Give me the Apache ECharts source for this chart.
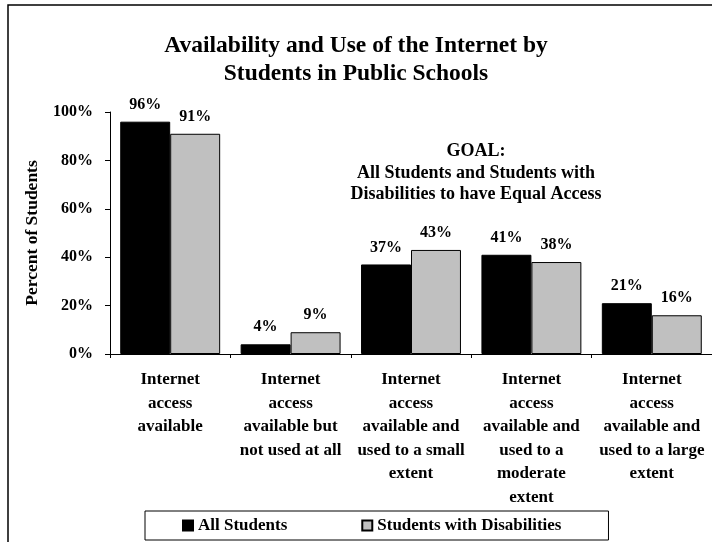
<!DOCTYPE html>
<html>
<head>
<meta charset="utf-8">
<script src="https://cdn.jsdelivr.net/npm/echarts@6/dist/echarts.min.js"></script>
<style>html,body{margin:0;padding:0;background:#fff}#c{width:712px;height:542px}</style>
</head>
<body>
<div id="c"></div>
<script>
const categories = [
  "Internet\naccess\navailable",
  "Internet\naccess\navailable but\nnot used at all",
  "Internet\naccess\navailable and\nused to a small\nextent",
  "Internet\naccess\navailable and\nused to a\nmoderate\nextent",
  "Internet\naccess\navailable and\nused to a large\nextent"
];
const allStudents = [96, 4, 37, 41, 21];
const disabilities = [91, 9, 43, 38, 16];
const seriesNames = ["All Students", "Students with Disabilities"];
const titleText = "Availability and Use of the Internet by\nStudents in Public Schools";
const goalText = "GOAL:\nAll Students and Students with\nDisabilities to have Equal Access";
const yAxisName = "Percent of Students";

const F = '"Liberation Serif", "Times New Roman", serif';
const chart = echarts.init(document.getElementById('c'), null, {renderer: 'canvas'});
const labelStyle = {show: true, position: 'top', distance: 9, formatter: '{c}%', fontFamily: F, fontWeight: 'bold', fontSize: 16, color: '#000'};
chart.setOption({
  animation: false,
  backgroundColor: '#fff',
  textStyle: {fontFamily: F},
  title: [
    {text: titleText, left: 351, top: 27, textAlign: 'center',
     textStyle: {fontFamily: F, fontWeight: 'bold', fontSize: 23.5, lineHeight: 28, color: '#000'}},
    {text: goalText, left: 471, top: 136, textAlign: 'center',
     textStyle: {fontFamily: F, fontWeight: 'bold', fontSize: 18, lineHeight: 21.5, color: '#000'}}
  ],
  graphic: [
    {type: 'rect', shape: {x: 8, y: 5, width: 800, height: 700}, style: {fill: 'none', stroke: '#000', lineWidth: 1.5}, silent: true, z: 100}
  ],
  legend: {
    left: 145, top: 511,
    padding: [6, 47, 6, 37],
    itemGap: 74,
    itemWidth: 10, itemHeight: 10,
    icon: 'rect',
    borderColor: '#000', borderWidth: 1,
    textStyle: {fontFamily: F, fontWeight: 'bold', fontSize: 17, color: '#000'},
    data: seriesNames
  },
  grid: {left: 110, right: 0, top: 112, bottom: 188},
  xAxis: {
    type: 'category',
    data: categories,
    axisLine: {lineStyle: {color: '#000', width: 1}},
    axisTick: {show: true, length: 4, lineStyle: {color: '#000'}},
    axisLabel: {interval: 0, margin: 14, fontFamily: F, fontWeight: 'bold', fontSize: 17, lineHeight: 23.5, color: '#000', align: 'center'}
  },
  yAxis: {
    type: 'value', min: 0, max: 100, interval: 20,
    name: yAxisName, nameLocation: 'middle', nameGap: 69, nameRotate: 90,
    nameTextStyle: {fontFamily: F, fontWeight: 'bold', fontSize: 17.5, color: '#000'},
    axisLine: {show: true, lineStyle: {color: '#000'}},
    axisTick: {show: true, length: 5, lineStyle: {color: '#000'}},
    splitLine: {show: false},
    axisLabel: {formatter: '{value}%', margin: 17, fontFamily: F, fontWeight: 'bold', fontSize: 16, color: '#000'}
  },
  series: [
    {name: seriesNames[0], type: 'bar', data: allStudents, barGap: '0%', barCategoryGap: '17%',
     itemStyle: {color: '#000', borderColor: '#000', borderWidth: 1}, label: labelStyle},
    {name: seriesNames[1], type: 'bar', data: disabilities, barGap: '0%', barCategoryGap: '17%',
     itemStyle: {color: '#C0C0C0', borderColor: '#000', borderWidth: 1}, label: labelStyle}
  ]
});
</script>
</body>
</html>
